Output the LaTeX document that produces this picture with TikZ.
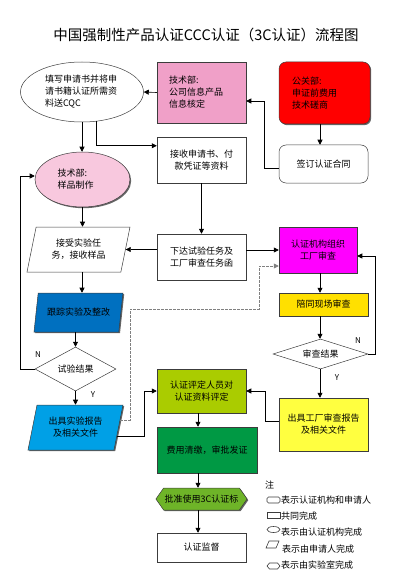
\documentclass[tikz,border=0pt]{standalone}
\usepackage{fontspec}
\setmainfont{Noto Sans CJK SC}
\usepackage{tikz}
\usetikzlibrary{shapes.geometric,shapes.symbols,arrows.meta,shadows}

\definecolor{pinkbox}{RGB}{240,160,200}
\definecolor{pinkell}{RGB}{248,200,222}
\definecolor{redbox}{RGB}{255,0,0}
\definecolor{magbox}{RGB}{255,0,255}
\definecolor{goldbox}{RGB}{255,224,0}
\definecolor{lemonbox}{RGB}{255,255,64}
\definecolor{bluedark}{RGB}{0,112,192}
\definecolor{bluelight}{RGB}{0,160,230}
\definecolor{limebox}{RGB}{170,204,0}
\definecolor{greenbox}{RGB}{0,153,68}
\definecolor{hexgreen}{RGB}{110,180,40}
\definecolor{linegray}{RGB}{60,60,60}

\tikzset{
 every node/.style={font=\fontsize{9bp}{12bp}\selectfont, inner sep=1bp},
 box/.style={draw=linegray, line width=0.5bp, rectangle, minimum width=89bp, align=center},
 roundbox/.style={box, rounded corners=7bp},
 ellbox/.style={draw=linegray, line width=0.5bp, ellipse, align=left},
 parabox/.style={draw=linegray, line width=0.5bp, trapezium, trapezium left angle=68, trapezium right angle=112, trapezium stretches body, align=center},
 decide/.style={draw=linegray, line width=0.5bp, diamond, aspect=2, inner sep=0pt},
 hexbox/.style={draw=linegray, line width=0.5bp, signal, signal to=west and east, signal pointer angle=110},
 sh/.style={drop shadow={shadow xshift=1.2bp, shadow yshift=-1.2bp, fill=black!75, opacity=0.8}},
 arr/.style={line width=0.6bp, -{Triangle[length=5bp,width=5bp]}},
 dasharr/.style={arr, gray, dash pattern=on 2.5bp off 1.5bp},
 yn/.style={font=\fontsize{8bp}{9bp}\selectfont},
 legsym/.style={draw=linegray, line width=0.6bp}
}

\begin{document}
\begin{tikzpicture}[x=1bp,y=-1bp]
\useasboundingbox (0,0) rectangle (408,581);
\node[font=\fontsize{14.5bp}{16bp}\selectfont] (title) at (206,35) {中国强制性产品认证CCC认证（3C认证）流程图};

\node[ellbox, minimum width=123bp, minimum height=60bp, text width=74bp] (apply) at (82,92) {填写申请书并将申\\请书籍认证所需资\\料送CQC};
\node[box, sh, fill=pinkbox, minimum height=61bp, text width=65bp, align=left] (tech) at (201.5,92.5) {技术部:\\公司信息产品\\信息核定};
\node[roundbox, sh, fill=redbox, minimum width=91bp, minimum height=62bp, text width=65bp, align=left] (pr) at (324.5,93) {公关部:\\申证前费用\\技术磋商};
\node[roundbox, minimum height=38bp] (sign) at (323.5,164) {签订认证合同};
\node[box, minimum height=46bp] (recv) at (201.5,160) {接收申请书、付\\款凭证等资料};
\node[ellbox, sh, fill=pinkell, minimum width=95bp, minimum height=55bp, text width=50bp] (sample) at (82.5,179.5) {技术部:\\样品制作};
\node[parabox, minimum width=103bp, minimum height=45bp] (task) at (78.5,249.5) {接受实验任\\务，接收样品};
\node[box, minimum height=46bp] (issue) at (201.5,257) {下达试验任务及\\工厂审查任务函};
\node[box, sh, fill=magbox, minimum width=78bp, minimum height=46bp] (org) at (318,250) {认证机构组织\\工厂审查};
\node[parabox, sh, fill=bluedark, minimum width=89bp, minimum height=39bp] (track) at (78.5,312.5) {跟踪实验及整改};
\node[decide, minimum width=81bp, minimum height=44bp] (testres) at (75.5,369) {试验结果};
\node[parabox, sh, fill=bluelight, minimum width=95bp, minimum height=45bp] (labrep) at (75.5,427.5) {出具实验报告\\及相关文件};
\node[box, sh, fill=goldbox, minimum height=23bp] (accomp) at (323.5,304.5) {陪同现场审查};
\node[decide, minimum width=95bp, minimum height=30bp] (auditres) at (320.5,354) {审查结果};
\node[box, sh, fill=lemonbox, minimum height=53bp] (facrep) at (323.5,424.5) {出具工厂审查报告\\及相关文件};
\node[box, sh, fill=limebox, minimum height=44bp] (eval) at (201.5,391) {认证评定人员对\\认证资料评定};
\node[box, sh, fill=greenbox, minimum width=100bp, minimum height=46bp] (fee) at (207,450) {费用清缴，审批发证};
\node[hexbox, sh, fill=hexgreen, minimum width=89bp, minimum height=22bp] (mark) at (201.5,499) {批准使用3C认证标};
\node[box, minimum height=29bp] (superv) at (201.5,547.5) {认证监督};

\coordinate (lx) at (82,0);
\coordinate (cx) at (198,0);
\coordinate (rx) at (320,0);
\coordinate (bx) at (144,0);
\coordinate (d1) at (130,309);
\coordinate (d2) at (259,309);

\draw[arr] (tech.west) -- (apply.east);
\draw[arr] (pr.south -| rx) -- (sign.north -| rx);
\draw[arr] ([yshift=-4bp]sign.west) -- ++(-14,0) |- ([yshift=-8.5bp]tech.east);
\draw[arr] (apply.south) -- (apply.south |- sample.north);
\draw[arr] (apply.-64) |- ([yshift=-9bp]recv.north west);
\draw[arr] (recv.south) -- (issue.north);
\draw[arr] (testres.west) -- ++(-14.5,0) |- ([yshift=3.5bp]sample.west);
\node[yn] (nleft) at (38,355) {N};
\draw[arr] (sample.south) -- (sample.south |- task.north);
\draw[arr] (issue.west |- task.east) -- (task.east);
\draw[arr] (issue.east |- org.west) -- (org.west);
\draw[arr] (task.south -| lx) -- (track.north -| lx);
\draw[arr] (track.south -| testres.north) -- (testres.north);
\draw[arr] (testres.south) -- (labrep.north -| testres.south);
\node[yn] (yleft) at (93,395) {Y};
\draw[arr] ([shift={(-1.9bp,-8.5bp)}]labrep.east) -| (bx |- eval.west) -- (eval.west);
\draw[dasharr] ([shift={(1.5bp,7.5bp)}]labrep.east) -| (d1) -- (d2) |- ([yshift=-16bp]org.west);
\draw[arr] (org.south -| rx) -- (accomp.north -| rx);
\draw[arr] (accomp.south -| rx) -- (auditres.north -| rx);
\draw[arr] (auditres.south -| rx) -- (facrep.north -| rx);
\node[yn] (yright) at (337,378) {Y};
\draw[arr] (auditres.east) -- ++(7,0) |- ([yshift=-6bp]org.east);
\node[yn] (nright) at (358,341) {N};
\draw[arr] ([yshift=3.5bp]facrep.west) -- ++(-13,0) |- (eval.east);
\draw[arr] (eval.south -| cx) -- (fee.north -| cx);
\draw[arr] (fee.south -| cx) -- (mark.north -| cx);
\draw[arr] (mark.south -| cx) -- (superv.north -| cx);

\node[anchor=west] (note) at (264,485) {注};
\draw[legsym, rounded corners=1.5bp] (267,497) rectangle (280,503);
\node[anchor=west] (lt1) at (280,500) {表示认证机构和申请人};
\draw[legsym] (267,512) rectangle (280,518);
\node[anchor=west] (lt2) at (280,516) {共同完成};
\draw[legsym] (273.5,529.5) ellipse [x radius=6.5, y radius=3];
\node[anchor=west] (lt3) at (280,532) {表示由认证机构完成};
\draw[legsym] (269,541) -- (279,541) -- (276,548) -- (266,548) -- cycle;
\node[anchor=west] (lt4) at (281,549) {表示由申请人完成};
\draw[legsym] (267,566) -- (269.5,563) -- (277.5,563) -- (280,566) -- (277.5,569) -- (269.5,569) -- cycle;
\node[anchor=west] (lt5) at (280,565) {表示由实验室完成};
\end{tikzpicture}
\end{document}
